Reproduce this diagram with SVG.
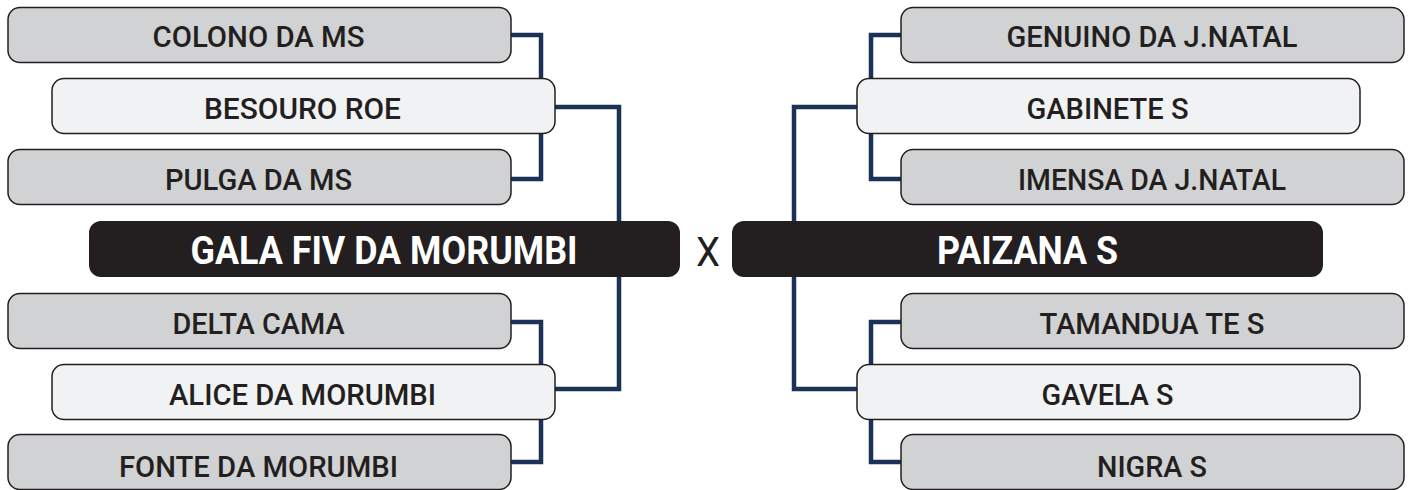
<svg xmlns="http://www.w3.org/2000/svg" width="1412" height="490" viewBox="0 0 1412 490">
<style>
.bg{fill:#ffffff}
.g{fill:#d1d2d4;stroke:#231f20;stroke-width:1.5}
.l{fill:#f1f2f3;stroke:#231f20;stroke-width:1.5}
.m{fill:#231f20}
.t{font-family:Roboto,"Liberation Sans",sans-serif;font-weight:500;font-size:30px;fill:#231f20;text-anchor:middle}
.tm{font-family:Roboto,"Liberation Sans",sans-serif;font-weight:700;font-size:38px;fill:#ffffff;text-anchor:middle}
.x{font-family:Roboto,"Liberation Sans",sans-serif;font-weight:400;font-size:40px;fill:#231f20;text-anchor:middle}
.c{fill:none;stroke:#1c3157;stroke-width:4.5;stroke-linejoin:miter}
</style>
<rect class="bg" x="0" y="0" width="1412" height="490"/>
<g id="connectors">
<path class="c" d="M511,35 H541 V179 H511"/>
<path class="c" d="M555,107 H619 V389 H555"/>
<path class="c" d="M511,322 H541 V462 H511"/>
<path class="c" d="M901,35 H871 V179 H901"/>
<path class="c" d="M857,107 H794 V389 H857"/>
<path class="c" d="M901,322 H871 V462 H901"/>
</g>
<g id="colono"><rect class="g" x="8" y="7.5" width="503" height="55" rx="12"/><text class="t" x="258.5" y="47" textLength="212" lengthAdjust="spacingAndGlyphs">COLONO DA MS</text></g>
<g id="besouro"><rect class="l" x="52" y="78.5" width="503" height="55" rx="12"/><text class="t" x="302.5" y="118.5" textLength="197" lengthAdjust="spacingAndGlyphs">BESOURO ROE</text></g>
<g id="pulga"><rect class="g" x="8" y="149.5" width="503" height="55" rx="12"/><text class="t" x="258.5" y="189.5" textLength="187" lengthAdjust="spacingAndGlyphs">PULGA DA MS</text></g>
<g id="gala"><rect class="m" x="89" y="221" width="591" height="56" rx="12"/><text class="tm" x="384" y="264" textLength="387" lengthAdjust="spacingAndGlyphs">GALA FIV DA MORUMBI</text></g>
<g id="delta"><rect class="g" x="8" y="293.5" width="503" height="55" rx="12"/><text class="t" x="258.5" y="333.5" textLength="172" lengthAdjust="spacingAndGlyphs">DELTA CAMA</text></g>
<g id="alice"><rect class="l" x="52" y="364.5" width="503" height="55" rx="12"/><text class="t" x="302.5" y="404.5" textLength="267" lengthAdjust="spacingAndGlyphs">ALICE DA MORUMBI</text></g>
<g id="fonte"><rect class="g" x="8" y="434.5" width="503" height="55" rx="12"/><text class="t" x="258.5" y="476.5" textLength="279" lengthAdjust="spacingAndGlyphs">FONTE DA MORUMBI</text></g>
<g id="vs"><text class="x" x="708" y="266" textLength="24" lengthAdjust="spacingAndGlyphs">X</text></g>
<g id="genuino"><rect class="g" x="901" y="7.5" width="503" height="55" rx="12"/><text class="t" x="1152" y="47" textLength="291" lengthAdjust="spacingAndGlyphs">GENUINO DA J.NATAL</text></g>
<g id="gabinete"><rect class="l" x="857" y="78.5" width="503" height="55" rx="12"/><text class="t" x="1107.5" y="118.5" textLength="162" lengthAdjust="spacingAndGlyphs">GABINETE S</text></g>
<g id="imensa"><rect class="g" x="901" y="149.5" width="503" height="55" rx="12"/><text class="t" x="1152" y="189.5" textLength="268" lengthAdjust="spacingAndGlyphs">IMENSA DA J.NATAL</text></g>
<g id="paizana"><rect class="m" x="732" y="221" width="591" height="56" rx="12"/><text class="tm" x="1027.5" y="264" textLength="181" lengthAdjust="spacingAndGlyphs">PAIZANA S</text></g>
<g id="tamandua"><rect class="g" x="901" y="293.5" width="503" height="55" rx="12"/><text class="t" x="1152" y="333.5" textLength="225" lengthAdjust="spacingAndGlyphs">TAMANDUA TE S</text></g>
<g id="gavela"><rect class="l" x="857" y="364.5" width="503" height="55" rx="12"/><text class="t" x="1107.5" y="404.5" textLength="132" lengthAdjust="spacingAndGlyphs">GAVELA S</text></g>
<g id="nigra"><rect class="g" x="901" y="434.5" width="503" height="55" rx="12"/><text class="t" x="1152" y="476.5" textLength="110" lengthAdjust="spacingAndGlyphs">NIGRA S</text></g>
</svg>
